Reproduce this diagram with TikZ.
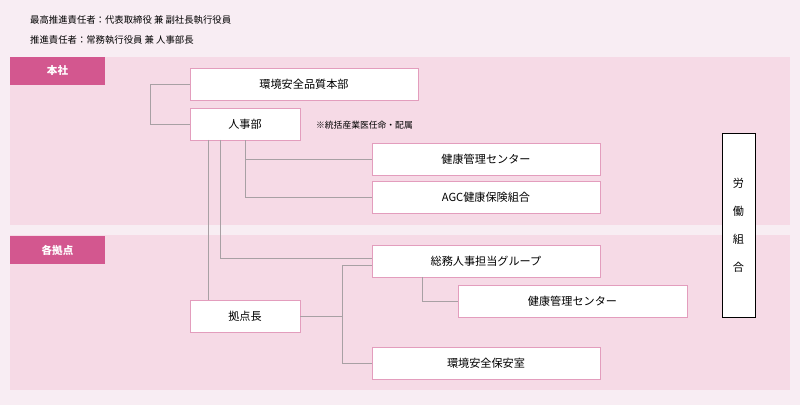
\documentclass[tikz,border=0pt]{standalone}
\usepackage{fontspec}
\setmainfont{Noto Sans CJK JP}
\definecolor{bgpink}{HTML}{F8EDF3}
\definecolor{bandpink}{HTML}{F6DAE6}
\definecolor{tagpink}{HTML}{D3578F}
\definecolor{edgepink}{HTML}{E39DBD}
\definecolor{linegray}{HTML}{A8A0A4}
\tikzset{
  unit/.style={draw=edgepink, fill=white, minimum height=0.96cm, font=\fontsize{9.5}{10}\selectfont, inner sep=0pt},
  tag/.style={fill=tagpink, text=white, minimum width=2.85cm, minimum height=0.84cm, font=\fontsize{9}{10}\selectfont\bfseries, inner sep=0pt},
  link/.style={draw=linegray, line width=0.5pt}
}
\begin{document}
\begin{tikzpicture}[x=0.03cm, y=-0.03cm]
  \useasboundingbox (0,0) rectangle (800,405);
  \fill[bgpink] (0,0) rectangle (800,405);
  \fill[bandpink] (10,57) rectangle (790,225);
  \fill[bandpink] (10,235) rectangle (790,390);

  \node[anchor=west, font=\fontsize{8}{9}\selectfont] (chief) at (26,20) {最高推進責任者：代表取締役 兼 副社長執行役員};
  \node[anchor=west, font=\fontsize{8}{9}\selectfont] (lead) at (26,40) {推進責任者：常務執行役員 兼 人事部長};

  \node[tag] (hq) at (57.5,71) {本社};
  \node[tag] (site) at (57.5,250) {各拠点};

  \node[unit, minimum width=6.84cm] (env) at (304,84) {環境安全品質本部};
  \node[unit, minimum width=3.3cm] (hr) at (245,124) {人事部};
  \node[anchor=west, font=\fontsize{7.5}{8}\selectfont] (note) at (312,125) {※統括産業医任命・配属};
  \node[unit, minimum width=6.84cm] (hc1) at (486,159) {健康管理センター};
  \node[unit, minimum width=6.84cm] (agc) at (486,197) {AGC健康保険組合};
  \node[unit, minimum width=6.84cm] (ga) at (486,261) {総務人事担当グループ};
  \node[unit, minimum width=6.87cm] (hc2) at (572.5,301) {健康管理センター};
  \node[unit, minimum width=3.3cm] (head) at (245,316) {拠点長};
  \node[unit, minimum width=6.84cm] (safe) at (486,363) {環境安全保安室};
  \node[draw=black, fill=white, minimum width=0.99cm, minimum height=5.52cm, inner sep=0pt,
        font=\fontsize{9.5}{10}\selectfont, align=center] (union) at (738.5,225)
        {労\\[14pt]働\\[14pt]組\\[14pt]合};

  \draw[link] (env.west) -- (150,84) |- (hr.west);
  \draw[link] (hr.south) -- (245,197) -- (agc.west);
  \draw[link] (245,159) -- (hc1.west);
  \draw[link] (220,140) |- (372,258);
  \draw[link] (208,140) -- (208,300);
  \draw[link] (head.east) -- (342,316);
  \draw[link] (ga.west |- 0,265) -| (342,363) -- (safe.west);
  \draw[link] (422,277) |- (hc2.west);
\end{tikzpicture}
\end{document}
